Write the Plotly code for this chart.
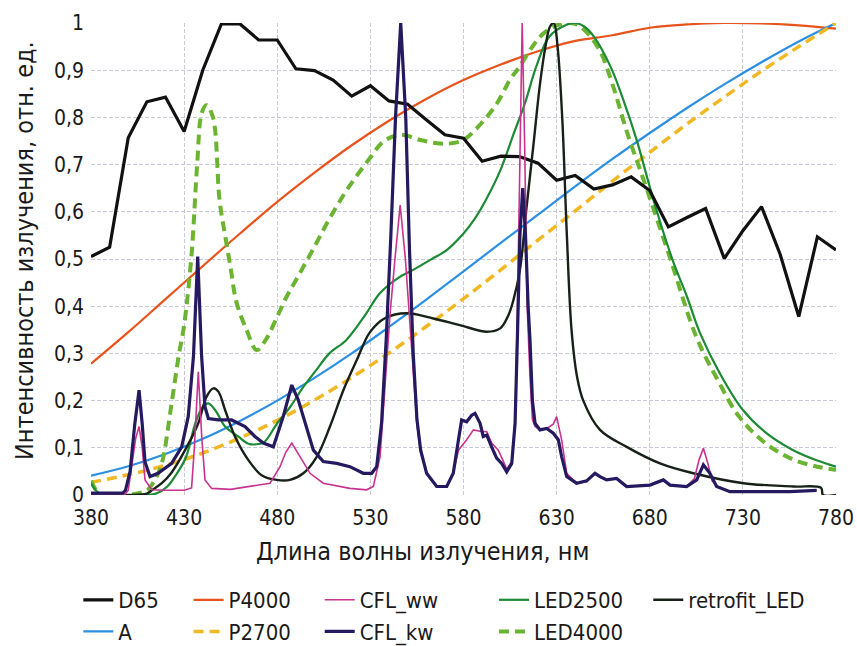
import plotly.graph_objects as go

# Wavelength grids (nm)
wl_10 = [380, 390, 400, 410, 420, 430, 440, 450, 460, 470, 480, 490, 500, 510, 520,
         530, 540, 550, 560, 570, 580, 590, 600, 610, 620, 630, 640, 650, 660, 670,
         680, 690, 700, 710, 720, 730, 740, 750, 760, 770, 780]
wl_20 = [380, 400, 420, 440, 460, 480, 500, 520, 540, 560, 580, 600, 620, 640, 660,
         680, 700, 720, 740, 760, 780]

# Relative spectral power, normalised to 1
d65 = [0.505, 0.525, 0.757, 0.833, 0.843, 0.770, 0.900, 0.998, 0.998, 0.964, 0.964,
       0.903, 0.899, 0.879, 0.845, 0.867, 0.835, 0.828, 0.795, 0.763, 0.756, 0.707,
       0.718, 0.717, 0.703, 0.667, 0.677, 0.648, 0.657, 0.674, 0.645, 0.568, 0.588,
       0.607, 0.501, 0.560, 0.611, 0.510, 0.378, 0.547, 0.519]
p4000 = [0.278, 0.345, 0.415, 0.485, 0.554, 0.621, 0.683, 0.741, 0.793, 0.839, 0.879,
         0.912, 0.940, 0.962, 0.974, 0.990, 0.997, 1.000, 0.999, 0.995, 0.988]
illum_a = [0.041, 0.061, 0.087, 0.119, 0.157, 0.200, 0.248, 0.300, 0.356, 0.414, 0.474,
           0.534, 0.594, 0.654, 0.712, 0.767, 0.820, 0.870, 0.917, 0.961, 1.000]
p2700 = [0.027, 0.043, 0.063, 0.089, 0.121, 0.158, 0.201, 0.249, 0.301, 0.357, 0.416,
         0.477, 0.540, 0.602, 0.665, 0.726, 0.786, 0.843, 0.898, 0.950, 1.000]

# (wavelength, value) pairs for the measured lamp spectra
led2500 = [(380, 0.025), (384, 0.005), (390, 0), (400, 0), (410, 0), (415, 0.003),
           (421, 0.018), (426, 0.045), (431, 0.08), (436, 0.152), (440, 0.187),
           (443, 0.194), (447, 0.178), (452, 0.145), (459, 0.124), (465, 0.108),
           (470, 0.108), (473, 0.112), (480, 0.152), (487, 0.187), (494, 0.229),
           (501, 0.265), (508, 0.300), (517, 0.328), (527, 0.38), (535, 0.427),
           (545, 0.46), (553, 0.477), (563, 0.50), (571, 0.519), (580, 0.554),
           (586, 0.585), (592, 0.625), (600, 0.69), (607, 0.766), (613, 0.83),
           (619, 0.907), (626, 0.971), (635, 0.996), (640, 1.0), (645, 0.992),
           (650, 0.971), (659, 0.907), (666, 0.835), (673, 0.752), (682, 0.625),
           (692, 0.501), (700, 0.42), (707, 0.343), (718, 0.255), (730, 0.18),
           (743, 0.13), (757, 0.095), (770, 0.073), (780, 0.06)]
led4000 = [(380, 0.03), (384, 0.005), (390, 0), (400, 0), (410, 0.01), (414, 0.03),
           (418, 0.067), (423, 0.187), (427, 0.293), (430, 0.36), (434, 0.51),
           (437, 0.70), (439.5, 0.81), (442, 0.826), (445.5, 0.80), (449, 0.625),
           (452, 0.55), (455, 0.48), (458, 0.41), (463.5, 0.35), (469, 0.307),
           (474, 0.33), (480, 0.378), (485, 0.42), (490, 0.455), (499, 0.519),
           (508, 0.585), (518, 0.65), (530, 0.715), (537, 0.749), (546, 0.763),
           (557, 0.752), (566, 0.745), (573, 0.745), (580, 0.752), (589, 0.785),
           (598, 0.830), (605, 0.88), (610, 0.907), (617, 0.95), (623, 0.978),
           (630, 0.995), (636, 1.0), (640, 0.998), (645, 0.985), (653, 0.943),
           (660, 0.87), (668, 0.766), (678, 0.653), (691, 0.501), (705, 0.335),
           (717, 0.24), (728, 0.166), (742, 0.11), (757, 0.075), (770, 0.06),
           (780, 0.053)]
retrofit_led = [(380, 0), (400, 0), (410, 0.003), (413, 0.011), (418, 0.025),
                (423, 0.046), (430.5, 0.095), (437.6, 0.152), (442, 0.208),
                (445.7, 0.226), (448.4, 0.219), (452, 0.18), (457.3, 0.124),
                (464.5, 0.074), (471.6, 0.042), (479.7, 0.032), (486.8, 0.032),
                (494, 0.046), (501.2, 0.081), (508.3, 0.145), (515.5, 0.222),
                (522.7, 0.286), (529.8, 0.345), (538, 0.375), (549.5, 0.385),
                (563.8, 0.374), (578, 0.36), (592.5, 0.346), (599.7, 0.353),
                (604, 0.38), (606.8, 0.413), (610.3, 0.477), (613.9, 0.611),
                (617.5, 0.74), (621.1, 0.872), (624, 0.95), (626.4, 0.992),
                (628.5, 1.0), (630.5, 0.95), (633, 0.80), (635.5, 0.55),
                (638, 0.35), (641, 0.25), (644.3, 0.2), (653.3, 0.138),
                (667.6, 0.102), (685.5, 0.067), (703.4, 0.046), (730.3, 0.025),
                (757.1, 0.018), (772, 0.015), (773, 0), (780, 0)]
cfl_ww = [(380, 0), (398, 0), (400, 0.01), (402, 0.06), (404, 0.12), (405.8, 0.145),
          (407.5, 0.10), (409, 0.032), (412.6, 0.011), (420, 0.01), (430, 0.01),
          (434, 0.015), (435.5, 0.10), (437.6, 0.261), (439.5, 0.12), (441.2, 0.032),
          (444.8, 0.014), (455, 0.012), (465.4, 0.018), (476.1, 0.025), (481.5, 0.06),
          (484.5, 0.09), (487.8, 0.11), (492.2, 0.081), (497.6, 0.046), (504.7, 0.025),
          (519, 0.014), (528, 0.011), (531.6, 0.018), (535.2, 0.081), (537.8, 0.222),
          (540.5, 0.38), (543.2, 0.50), (546, 0.614), (548.8, 0.50), (551.3, 0.35),
          (553, 0.25), (555, 0.15), (557, 0.09), (560.2, 0.046), (565.6, 0.018),
          (571, 0.018), (574.5, 0.046), (577.3, 0.095), (581.7, 0.117), (585.3, 0.138),
          (588.9, 0.135), (592.5, 0.134), (595.1, 0.11), (598.7, 0.095), (601, 0.075),
          (603.2, 0.055), (605.9, 0.07), (607.7, 0.16), (609, 0.40), (610.3, 0.75),
          (611.5, 1.0), (612.8, 0.75), (614.2, 0.40), (615.7, 0.25), (617, 0.16),
          (618.4, 0.145), (621.1, 0.138), (624.7, 0.141), (628.2, 0.15), (630, 0.166),
          (631.5, 0.14), (632.7, 0.117), (635.4, 0.046), (640.7, 0.025), (646.1, 0.028),
          (650.6, 0.046), (653.3, 0.039), (656.8, 0.032), (662.2, 0.035), (667.6, 0.018),
          (680.1, 0.021), (687.3, 0.032), (690.9, 0.021), (699.8, 0.018), (704, 0.035),
          (706.5, 0.075), (708.8, 0.099), (711, 0.07), (713.5, 0.03), (716.5, 0.018),
          (723.1, 0.007), (755.3, 0.007), (769.6, 0.01)]
cfl_kw = [(380, 0.004), (397, 0.004), (398.5, 0.01), (401, 0.05), (403.5, 0.15),
          (405.8, 0.222), (407.5, 0.15), (409, 0.07), (411.7, 0.039), (416, 0.046),
          (423.3, 0.067), (428.7, 0.102), (432.2, 0.166), (435, 0.293), (437.3, 0.505),
          (439.4, 0.293), (441.2, 0.187), (443, 0.162), (448.4, 0.159), (455.5, 0.159),
          (462.7, 0.145), (468, 0.124), (472.5, 0.11), (477.9, 0.102), (483.2, 0.166),
          (487.8, 0.233), (491.3, 0.201), (494.9, 0.152), (499.4, 0.095), (504.7, 0.071),
          (511.9, 0.067), (519, 0.06), (526.2, 0.046), (530.7, 0.046), (533.4, 0.06),
          (536, 0.152), (538.5, 0.33), (541, 0.55), (543.5, 0.80), (546.3, 1.0),
          (549, 0.80), (551, 0.52), (553, 0.30), (555, 0.16), (557, 0.095),
          (560.2, 0.046), (565.6, 0.018), (571, 0.018), (574.5, 0.046), (577.3, 0.117),
          (579, 0.159), (581.7, 0.155), (584.4, 0.169), (586.2, 0.173), (588.9, 0.152),
          (590.6, 0.124), (592.5, 0.127), (595.1, 0.102), (597.8, 0.078), (600.5, 0.067),
          (603.2, 0.049), (605.9, 0.067), (607.7, 0.152), (608.9, 0.328), (610.3, 0.55),
          (611.8, 0.65), (613.3, 0.55), (614.7, 0.40), (615.7, 0.328), (617, 0.2),
          (618.4, 0.152), (621.1, 0.138), (624.7, 0.141), (628.2, 0.131), (630.9, 0.117),
          (632.7, 0.081), (635.4, 0.039), (640.7, 0.025), (646.1, 0.03), (650.6, 0.046),
          (653.3, 0.039), (656.8, 0.032), (662.2, 0.035), (667.6, 0.018), (680.1, 0.021),
          (687.3, 0.032), (690.9, 0.021), (699.8, 0.018), (705.2, 0.032), (708.8, 0.064),
          (712.3, 0.046), (715.9, 0.018), (723.1, 0.007), (755.3, 0.007), (769.6, 0.01)]

x_ticks = [380, 430, 480, 530, 580, 630, 680, 730, 780]
x_title = "Длина волны излучения, нм"
y_title = "Интенсивность излучения, отн. ед."

COND = "DejaVu Sans Condensed, Liberation Sans, sans-serif"
TEXT = "#1a1a1a"


def xs(pairs):
    return [p[0] for p in pairs]


def ys(pairs):
    return [p[1] for p in pairs]


fig = go.Figure()


def add(name, x, y, color, width, legend, rank, dash="solid", shape="linear"):
    fig.add_trace(go.Scatter(
        x=x, y=y, name=name, mode="lines",
        line=dict(color=color, width=width, dash=dash, shape=shape),
        legend=legend, legendrank=rank, legendgroup=name,
    ))


# drawing order: smooth reference curves first, line spectra on top
add("P4000", wl_20, p4000, "#e8531c", 2.2, "legend2", 1, shape="spline")
add("A", wl_20, illum_a, "#2b8fe3", 2.2, "legend", 2, shape="spline")
add("P2700", wl_20, p2700, "#f2b824", 3.5, "legend2", 2, dash="10px,6px", shape="spline")
add("LED4000", xs(led4000), ys(led4000), "#6bb431", 4, "legend4", 2, dash="10px,6px", shape="spline")
add("LED2500", xs(led2500), ys(led2500), "#1d8a35", 2.2, "legend4", 1, shape="spline")
add("D65", wl_10, d65, "#111111", 3.2, "legend", 1)
add("retrofit_LED", xs(retrofit_led), ys(retrofit_led), "#172117", 2.4, "legend5", 1, shape="spline")
add("CFL_ww", xs(cfl_ww), ys(cfl_ww), "#c8338f", 1.6, "legend3", 1)
add("CFL_kw", xs(cfl_kw), ys(cfl_kw), "#25195f", 3.2, "legend3", 2)

# five two-row legend columns under the plot
leg_common = dict(orientation="v", yanchor="top", xanchor="left", y=-0.178,
                  bgcolor="rgba(0,0,0,0)", font=dict(family=COND, size=22, color=TEXT),
                  tracegroupgap=0, itemwidth=30)
legend_x = {"legend": -0.017, "legend2": 0.131, "legend3": 0.307, "legend4": 0.541, "legend5": 0.748}
for key, lx in legend_x.items():
    fig.update_layout({key: dict(leg_common, x=lx)})

grid = dict(showgrid=True, gridcolor="#c9cad8", gridwidth=1, griddash="4px,2px",
            zeroline=False, showline=False, ticks="")

fig.update_xaxes(range=[380, 780], tickvals=x_ticks, ticklabelstandoff=8,
                 tickfont=dict(family=COND, size=21, color=TEXT), **grid)
fig.update_yaxes(range=[0, 1], dtick=0.1, tick0=0, ticklabelstandoff=6,
                 tickfont=dict(family=COND, size=21, color=TEXT), **grid)

# axis titles
fig.add_annotation(text=x_title, xref="paper", yref="paper", x=0.445, y=-0.119,
                   xanchor="center", yanchor="middle", showarrow=False,
                   font=dict(family=COND, size=25, color=TEXT))
fig.add_annotation(text=y_title, xref="paper", yref="paper", x=-0.09, y=0.519,
                   xanchor="center", yanchor="middle", textangle=-90, showarrow=False,
                   font=dict(family=COND, size=25, color=TEXT))

fig.update_layout(
    width=857, height=646,
    margin=dict(l=91, r=21, t=23, b=151, autoexpand=False),
    paper_bgcolor="white", plot_bgcolor="white",
    separators=", ",
    showlegend=True,
)

fig.write_html("out.html")
